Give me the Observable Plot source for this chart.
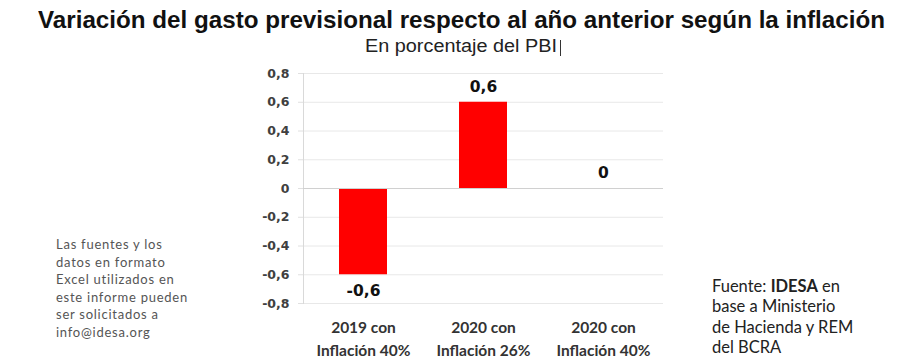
<!DOCTYPE html>
<html><head><meta charset="utf-8">
<script src="https://cdn.jsdelivr.net/npm/d3@7"></script>
<script src="https://cdn.jsdelivr.net/npm/@observablehq/plot@0.6"></script>
<style>
html,body{margin:0;padding:0;background:#fff;}
#wrap{position:relative;width:900px;height:363px;overflow:hidden;background:#fff;}
#wrap svg{position:absolute;left:0;top:0;}
.t{position:absolute;white-space:nowrap;}
#title{top:6px;font-family:"Liberation Sans",Arial,sans-serif;font-weight:bold;font-size:24px;color:#111;transform-origin:0 0;}
#sub{top:36px;font-family:"Liberation Sans",Arial,sans-serif;font-size:17.5px;color:#222;transform-origin:0 0;}
#left{left:56px;top:236px;font-family:Lato,"Open Sans",sans-serif;font-size:13px;letter-spacing:0.75px;line-height:17.6px;color:#555;}
#right{left:712px;top:276px;font-family:Lato,"Open Sans",sans-serif;font-size:16.5px;line-height:20.3px;color:#222;}
</style></head>
<body><div id="wrap"></div>
<script>
const categories = ["2019 con\nInflación 40%", "2020 con\nInflación 26%", "2020 con\nInflación 40%"];
const values = [-0.6, 0.6, 0];
const yTicks = [-0.8, -0.6, -0.4, -0.2, 0, 0.2, 0.4, 0.6, 0.8];
const titleText = "Variación del gasto previsional respecto al año anterior según la inflación";
const subtitleText = "En porcentaje del PBI";
const leftNote = ["Las fuentes y los", "datos en formato", "Excel utilizados en", "este informe pueden", "ser solicitados a", "info@idesa.org"];
const rightNote = ["Fuente: <b>IDESA</b> en", "base a Ministerio", "de Hacienda y REM", "del BCRA"];

const data = categories.map((c, i) => ({cat: c, v: values[i]}));
const fmt = v => (v === 0 ? "0" : d3.format(".1f")(v).replace(".", ",").replace("−", "-"));
const valueFont = {fontFamily: "'DejaVu Sans', sans-serif", fontWeight: "bold", fontSize: 15.5, fill: "#111"};

const chart = Plot.plot({
  width: 900, height: 363,
  marginLeft: 303, marginRight: 237, marginTop: 73, marginBottom: 60,
  style: {fontFamily: "Lato, 'Open Sans', sans-serif", background: "transparent"},
  x: {domain: categories, paddingInner: 0.6, paddingOuter: 0.3, label: null},
  y: {domain: [-0.8, 0.8], label: null},
  marks: [
    Plot.ruleY(yTicks.filter(d => d !== 0), {stroke: "#e8e8e8", strokeWidth: 1}),
    Plot.frame({anchor: "left", stroke: "#d9d9d9"}),
    Plot.barY(data, {x: "cat", y: "v", fill: "#ff0000"}),
    Plot.ruleY([0], {stroke: "#d0d0d0", strokeWidth: 1.2}),
    Plot.axisY({ticks: yTicks, tickFormat: fmt, tickSize: 5, tickPadding: 9, stroke: "#e0e0e0",
      fontFamily: "'DejaVu Sans', sans-serif", fontSize: 12.5, fontWeight: "bold", fill: "#404040", label: null}),
    Plot.axisX({tickSize: 0, tickPadding: 14, fontSize: 15.5, fontWeight: "bold", fill: "#333",
      lineHeight: 1.45, label: null}),
    Plot.text(data.filter(d => d.v >= 0), {x: "cat", y: "v", text: d => fmt(d.v), dy: -15, ...valueFont}),
    Plot.text(data.filter(d => d.v < 0), {x: "cat", y: "v", text: d => fmt(d.v), dy: 16, ...valueFont})
  ]
});
const wrap = document.getElementById("wrap");
wrap.appendChild(chart);
function addDiv(id, html){const d=document.createElement("div");d.id=id;d.className="t";d.innerHTML=html;wrap.appendChild(d);return d;}
function fitTo(el, left, width){
  const w = el.getBoundingClientRect().width;
  el.style.left = left + "px";
  el.style.transform = "scaleX(" + (width / w) + ")";
}
const t = addDiv("title", titleText);
fitTo(t, 38, 847);
const s = addDiv("sub", subtitleText);
fitTo(s, 365, 192);
const caret = addDiv("caret", "");
caret.style.cssText = "left:560px;top:40px;width:1px;height:16px;background:#333;position:absolute;";
addDiv("left", leftNote.join("<br>"));
addDiv("right", rightNote.join("<br>"));
</script></body></html>
